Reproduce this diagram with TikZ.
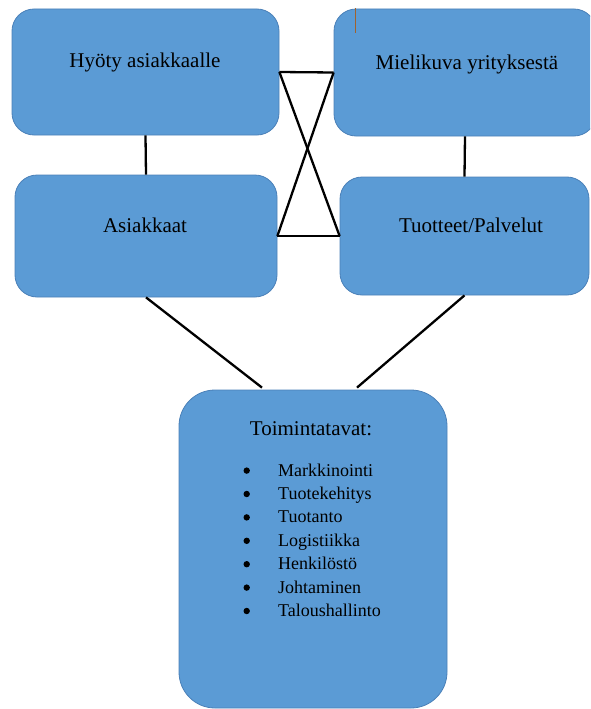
\documentclass[tikz,border=0pt]{standalone}
\usepackage{fontspec}
\setmainfont{Liberation Serif}
\usetikzlibrary{calc}
\definecolor{boxfill}{HTML}{5B9BD5}
\definecolor{boxline}{HTML}{4A80B8}
\definecolor{caret}{HTML}{A0622E}
\tikzset{
  box/.style={draw=boxline, line width=0.8pt, fill=boxfill, rounded corners=22pt, inner sep=0pt},
  bigbox/.style={draw=boxline, line width=0.8pt, fill=boxfill, rounded corners=36pt, inner sep=0pt},
  lbl/.style={anchor=base, inner sep=0pt, font=\fontsize{21}{25}\selectfont},
  conn/.style={draw=black, line width=2.3pt},
  bulletdot/.style={fill=black},
}
\begin{document}
\begin{tikzpicture}[x=1pt, y=-1pt]
\useasboundingbox (0,0) rectangle (590,709);
\clip (0,0) rectangle (590,709);
% boxes
\node[box, minimum width=267pt, minimum height=126pt] (b1) at (145.5,72) {};
\node[box, minimum width=262pt, minimum height=127pt] (b2) at (465,72.5) {};
\node[box, minimum width=249pt, minimum height=118pt] (b4) at (464.5,236) {};
\node[box, minimum width=262pt, minimum height=122pt] (b3) at (146,236) {};
\node[bigbox, minimum width=268pt, minimum height=318pt] (b5) at (313,549) {};
% labels
\node[lbl] (t1) at (145,67) {Hyöty asiakkaalle};
\node[lbl] (t2) at (467,70) {Mielikuva yrityksestä};
\node[lbl] (t3) at (145,232) {Asiakkaat};
\node[lbl] (t4) at (471,232) {Tuotteet/Palvelut};
\node[lbl] (t5) at (311,435) {Toimintatavat:};
\node[anchor=north west, inner sep=0pt, font=\fontsize{18}{23.4}\selectfont] (list) at (278,459.6) {%
\begin{tabular}{@{}l@{}}
Markkinointi\\
Tuotekehitys\\
Tuotanto\\
Logistiikka\\
Henkilöstö\\
Johtaminen\\
Taloushallinto
\end{tabular}};
% bullets
\foreach \k in {0,...,6}
  \fill[bulletdot] (246.7,{470.6+23.4*\k}) circle (3.2pt);
% connectors
\draw[conn] (b1.east) -- (b2.west);
\draw[conn] (b3.east) -- (b4.west);
\draw[conn] (b1.east) -- (b4.west);
\draw[conn] (b2.west) -- (b3.east);
\draw[conn] (b1.south) -- (b3.north);
\draw[conn] (b2.south) -- (b4.north);
\draw[conn] (b3.south) -- ($(b5.north)+(-51,-2)$);
\draw[conn] (b4.south) -- ($(b5.north)+(44,-2)$);
% small caret mark
\coordinate (c1) at (355.5,8);
\coordinate (c2) at (355.5,33);
\draw[caret, line width=1pt] (c1) -- (c2);
\end{tikzpicture}
\end{document}
